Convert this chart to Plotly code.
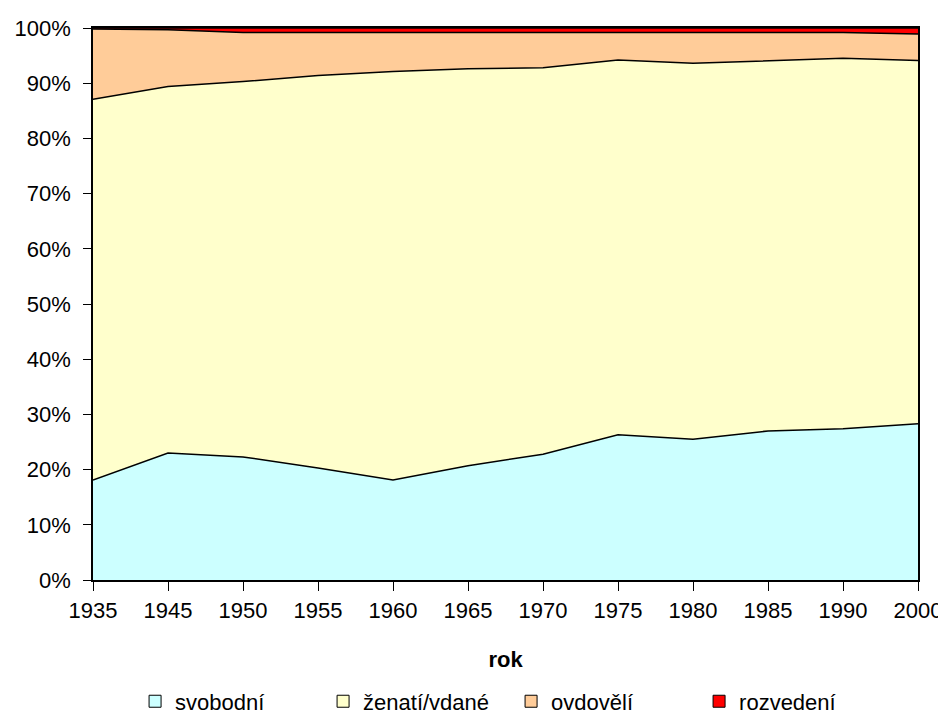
import plotly.graph_objects as go

# roky a podíly rodinného stavu (%)
roky = ["1935", "1945", "1950", "1955", "1960", "1965", "1970", "1975", "1980", "1985", "1990", "2000"]
svobodni = [18.1, 23.0, 22.3, 20.3, 18.1, 20.7, 22.8, 26.3, 25.5, 27.0, 27.4, 28.3]
zenati = [69.0, 66.4, 68.0, 71.1, 74.0, 71.9, 70.0, 67.9, 68.1, 67.0, 67.1, 65.8]
ovdoveli = [12.7, 10.3, 8.9, 7.8, 7.1, 6.6, 6.4, 5.0, 5.6, 5.2, 4.7, 4.8]
rozvedeni = [0.2, 0.3, 0.8, 0.8, 0.8, 0.8, 0.8, 0.8, 0.8, 0.8, 0.8, 1.1]

series = [
    ("svobodní", svobodni, "#CCFFFF"),
    ("ženatí/vdané", zenati, "#FFFFCC"),
    ("ovdovělí", ovdoveli, "#FFCC99"),
    ("rozvedení", rozvedeni, "#FF0000"),
]

fig = go.Figure()
for name, vals, color in series:
    fig.add_trace(go.Scatter(
        x=roky, y=vals, name=name, mode="lines",
        stackgroup="one", groupnorm="percent",
        fillcolor=color, line=dict(color="black", width=1.5),
        showlegend=False,
    ))

# legend only entries with square symbols (like Excel)
for name, vals, color in series:
    fig.add_trace(go.Bar(
        x=[None], y=[None], name=name,
        marker=dict(color=color, line=dict(color="black", width=1)),
    ))

font = dict(family="Liberation Sans, Arial, sans-serif", size=22, color="black")

# page has an 8px body margin, so the figure is a bit smaller than the window
fig.update_layout(
    width=938, height=709,
    margin=dict(l=85, r=28, t=20, b=137, autoexpand=False),
    plot_bgcolor="white", paper_bgcolor="white",
    font=font,
    showlegend=True,
    legend=dict(orientation="h", x=0.051, xanchor="left", y=-0.22, yanchor="middle",
                font=dict(size=22), itemwidth=30, traceorder="normal",
                entrywidth=143, entrywidthmode="pixels"),
    xaxis=dict(
        type="category", range=[0, 11], showgrid=False, zeroline=False,
        showline=True, linecolor="black", linewidth=1.5, mirror=True,
        ticks="outside", ticklen=9, tickcolor="black", ticklabelstandoff=1,
        automargin=False,
        title=dict(text="<b>rok</b>", font=dict(size=22), standoff=29),
    ),
    yaxis=dict(
        range=[0, 100], dtick=10, ticksuffix="%", showgrid=False, zeroline=False,
        showline=True, linecolor="black", linewidth=1.5, mirror=True,
        ticks="outside", ticklen=8, tickcolor="black", ticklabelstandoff=8,
        automargin=False,
    ),
)

fig.write_html("out.html")
